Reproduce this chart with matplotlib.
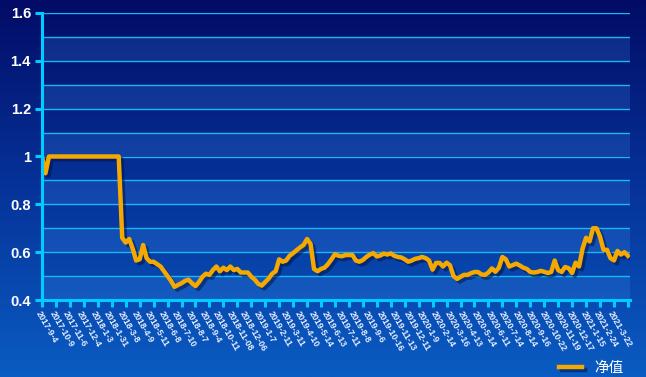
import numpy as np
import matplotlib
matplotlib.use("Agg")
import matplotlib.pyplot as plt
import matplotlib.patheffects as pe
from matplotlib.colors import LinearSegmentedColormap
from matplotlib.transforms import ScaledTranslation

# tick dates (one every 4 points)
dates = ["2017-9-4", "2017-10-9", "2017-11-6", "2017-12-4", "2018-1-3", "2018-1-31",
         "2018-3-8", "2018-4-9", "2018-5-11", "2018-6-8", "2018-7-10", "2018-8-7",
         "2018-9-4", "2018-10-11", "2018-11-08", "2018-12-06", "2019-1-7", "2019-2-11",
         "2019-3-11", "2019-4-10", "2019-5-14", "2019-6-13", "2019-7-11", "2019-8-8",
         "2019-9-6", "2019-10-16", "2019-11-13", "2019-12-11", "2020-1-9", "2020-2-14",
         "2020-3-16", "2020-4-13", "2020-5-14", "2020-6-11", "2020-7-14", "2020-8-14",
         "2020-9-16", "2020-10-22", "2020-11-19", "2020-12-17", "2021-1-15", "2021-2-24",
         "2021-3-22"]

# net value
nav = [1.0, 0.93, 1.0] + [1.0] * 20 + [
    0.66, 0.64, 0.655, 0.615, 0.565, 0.57, 0.63, 0.575, 0.56, 0.56,
    0.55, 0.54, 0.52, 0.50, 0.48, 0.455, 0.463, 0.47, 0.48, 0.485,
    0.47, 0.458, 0.475, 0.497, 0.51, 0.505, 0.525, 0.54, 0.52, 0.535,
    0.525, 0.54, 0.525, 0.53, 0.515, 0.515, 0.515, 0.498, 0.485, 0.468,
    0.46, 0.475, 0.49, 0.51, 0.52, 0.57, 0.56, 0.565, 0.585, 0.596,
    0.608, 0.62, 0.63, 0.655, 0.635, 0.53, 0.52, 0.53, 0.535, 0.55,
    0.57, 0.592, 0.585, 0.583, 0.588, 0.588, 0.588, 0.565, 0.56, 0.567,
    0.58, 0.59, 0.596, 0.582, 0.586, 0.594, 0.59, 0.595, 0.585, 0.58,
    0.578, 0.57, 0.56, 0.565, 0.572, 0.575, 0.58, 0.575, 0.565, 0.527,
    0.555, 0.555, 0.54, 0.556, 0.545, 0.50, 0.488, 0.497, 0.505, 0.505,
    0.512, 0.517, 0.517, 0.507, 0.505, 0.515, 0.532, 0.518, 0.535, 0.58,
    0.57, 0.54, 0.546, 0.552, 0.544, 0.535, 0.53, 0.517, 0.515, 0.517,
    0.522, 0.518, 0.513, 0.517, 0.565, 0.525, 0.517, 0.538, 0.533, 0.513,
    0.556, 0.54, 0.615, 0.66, 0.645, 0.70, 0.70, 0.665, 0.61, 0.61,
    0.575, 0.565, 0.605, 0.59, 0.60, 0.585]

yticks = [0.4, 0.6, 0.8, 1.0, 1.2, 1.4, 1.6]
ylabels = ["0.4", "0.6", "0.8", "1", "1.2", "1.4", "1.6"]

fig = plt.figure(figsize=(6.46, 3.77), dpi=100)

# background gradient
bg = fig.add_axes([0, 0, 1, 1], zorder=-5)
cmap = LinearSegmentedColormap.from_list("bg", ["#020c66", "#06339a", "#0a5cc2"])
bg.imshow(np.linspace(0, 1, 256).reshape(-1, 1), aspect="auto", cmap=cmap,
          extent=[0, 1, 0, 1])
bg.axis("off")

ax = fig.add_axes([42 / 646, 1 - 300 / 377, 588 / 646, 287 / 377])
ax.patch.set_alpha(0)

x = np.arange(len(nav))
ax.set_xlim(0, 168.6)
ax.set_ylim(0.4, 1.6)

# alternating bands + grid
for lo in np.arange(0.4, 1.6, 0.2):
    ax.axhspan(lo, lo + 0.1, color="#4aa0ff", alpha=0.18, lw=0, zorder=0)
for g in np.arange(0.5, 1.61, 0.1):
    ax.axhline(g, color="#1cb6f0", lw=1.0, zorder=1)

line, = ax.plot(x, nav, color="#f5a800", lw=3.2, solid_joinstyle="round", zorder=3,
                path_effects=[pe.SimpleLineShadow(offset=(2, -2), shadow_color="#001040", alpha=0.5),
                              pe.Normal()])

for s in ["top", "right"]:
    ax.spines[s].set_visible(False)
for s in ["left", "bottom"]:
    ax.spines[s].set_color("#00ccff")
    ax.spines[s].set_linewidth(2.2)
    ax.spines[s].set_zorder(4)

ax.set_yticks(yticks)
ax.set_yticklabels(ylabels, fontsize=10.5, fontweight="bold", family="Liberation Sans")
ax.tick_params(axis="y", colors="#00ccff", length=5, width=2.2, pad=3)
for t in ax.get_yticklabels():
    t.set_color("white")

ax.set_xticks(np.arange(0, len(nav), 4))
ax.set_xticklabels(dates, rotation=-60, ha="left", va="top", rotation_mode="anchor",
                   fontsize=6.3, fontweight="bold", family="Liberation Sans")
ax.tick_params(axis="x", colors="#00ccff", length=5, width=2.2, pad=2)
# labels drift slightly left of their ticks towards the right end
for i, t in enumerate(ax.get_xticklabels()):
    t.set_color("#e8f0ff")
    t.set_transform(t.get_transform() + ScaledTranslation(-i / 300, 0, fig.dpi_scale_trans))

leg = fig.legend([line], ["净值"], loc="lower right", bbox_to_anchor=(0.985, -0.03),
                 frameon=False, handlelength=1.6,
                 prop={"family": ["Noto Sans CJK SC", "DejaVu Sans"], "size": 10.5})
for t in leg.get_texts():
    t.set_color("white")

fig.savefig("out.png", dpi=100)
